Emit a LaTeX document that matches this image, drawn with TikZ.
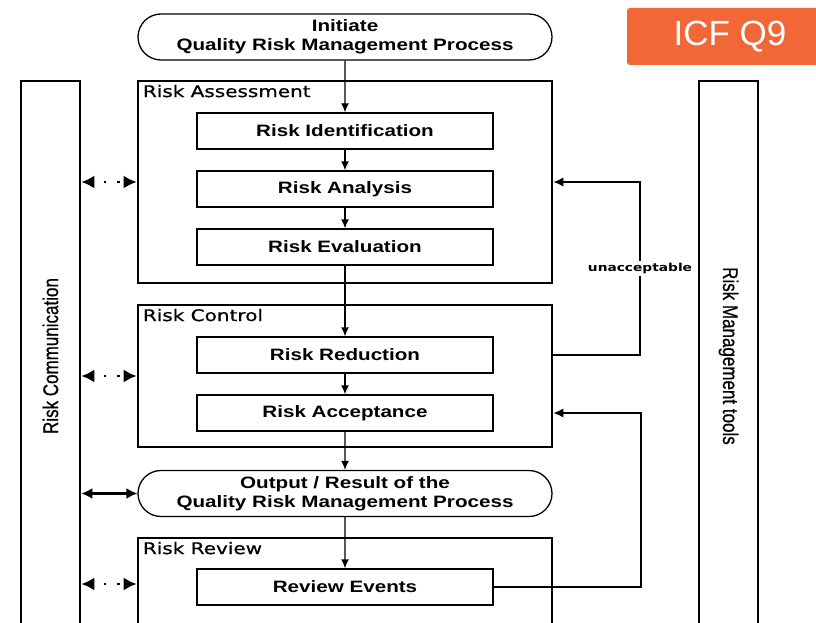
\documentclass[tikz,border=0pt]{standalone}
\usepackage{fontspec}
\newfontfamily\boxfont[FakeStretch=1.25]{Liberation Sans}
\newfontfamily\stagefont[FakeStretch=1.25, FakeBold=0.7]{DejaVu Sans}
\newfontfamily\loopfont[FakeStretch=1.25]{DejaVu Sans}
\newfontfamily\sidefont[FakeBold=0.8]{Liberation Sans}
\newfontfamily\tagfont{Liberation Sans}
\usetikzlibrary{arrows.meta, shapes.misc}
\definecolor{icforange}{RGB}{242,103,56}

\tikzset{
  riskbox/.style = {draw, line width=1.3pt, minimum width=296pt, minimum height=36pt, inner sep=0pt,
    font=\boxfont\bfseries\fontsize{16.5}{19}\selectfont},
  terminal/.style = {draw, rounded rectangle, line width=1.3pt, minimum width=414pt, minimum height=46pt,
    inner sep=0pt, align=center, font=\boxfont\bfseries\fontsize{16.5}{19}\selectfont},
  stage/.style = {draw, line width=2.6pt, minimum width=414pt, inner sep=0pt},
  stagelabel/.style = {anchor=north west, inner sep=0pt, font=\stagefont\fontsize{16}{19}\selectfont},
  sidebar/.style = {draw, line width=2.6pt, minimum width=59pt, minimum height=550pt, inner sep=0pt},
  sidetext/.style = {inner sep=0pt, font=\sidefont\fontsize{17}{19}\selectfont},
  tag/.style = {fill=icforange, rounded corners=3pt, minimum width=206pt, minimum height=57pt,
    text=white, font=\tagfont\fontsize{35}{40}\selectfont},
  flow/.style = {line width=1.3pt, -{Latex[length=9pt,width=8pt]}},
  feedback/.style = {line width=1.3pt, -{Latex[length=10pt,width=9pt]}},
  commlink/.style = {line width=2.8pt, dash pattern=on 2.8pt off 10.5pt, dash phase=2.8pt,
    {Latex[length=13pt,width=13pt]}-{Latex[length=13pt,width=13pt]}},
  solidlink/.style = {line width=2.2pt, {Latex[length=11pt,width=11pt]}-{Latex[length=11pt,width=11pt]}},
  looplabel/.style = {fill=white, inner sep=2pt, font=\loopfont\bfseries\fontsize{11}{13}\selectfont}
}

\begin{document}
\begin{tikzpicture}[x=1pt, y=-1pt]
\useasboundingbox (0,0) rectangle (816,623);
\clip (0,0) rectangle (816,623);
\fill[white] (0,0) rectangle (816,623);

% side bars
\node[sidebar] (comm) at (50.5,356) {};
\node[sidetext, rotate=90, yscale=1.25] (commtext) at (comm.center) {Risk Communication};
\node[sidebar] (tools) at (728.5,356) {};
\node[sidetext, rotate=-90, yscale=1.25] (toolstext) at (tools.center) {Risk Management tools};

\node[tag] (icf) at (730,36.5) {ICF Q9};

% process
\node[terminal] (init) at (345,37) {Initiate\\Quality Risk Management Process};

\node[stage, minimum height=202pt] (ra) at (345,182) {};
\node[stagelabel] (ralabel) at ([shift={(6,5)}]ra.north west) {Risk Assessment};
\node[riskbox] (rid) at (345,131) {Risk Identification};
\node[riskbox] (ran) at (345,189) {Risk Analysis};
\node[riskbox] (reval) at (345,247) {Risk Evaluation};

\node[stage, minimum height=142pt] (rc) at (345,376) {};
\node[stagelabel] (rclabel) at ([shift={(6,5)}]rc.north west) {Risk Control};
\node[riskbox] (red) at (345,355) {Risk Reduction};
\node[riskbox] (acc) at (345,413) {Risk Acceptance};

\node[terminal] (out) at (345,493.5) {Output / Result of the\\Quality Risk Management Process};

\node[stage, minimum height=92pt] (rr) at (345,584) {};
\node[stagelabel] (rrlabel) at ([shift={(6,5)}]rr.north west) {Risk Review};
\node[riskbox] (evt) at (345,587) {Review Events};

% main flow
\draw[flow] (init) -- (rid);
\draw[flow] (rid) -- (ran);
\draw[flow] (ran) -- (reval);
\draw[flow] (reval) -- (red);
\draw[flow] (red) -- (acc);
\draw[flow] (acc) -- (out);
\draw[flow] (out) -- (evt);

% loops back
\coordinate (loopa) at (640,0);
\coordinate (loopb) at (641,0);
\draw[feedback] (rc.east |- red) -- (loopa |- red)
  -- node[looplabel] {unacceptable} (loopa |- ra) -- (ra.east);
\draw[feedback] (evt.east) -- (loopb |- evt) -- (loopb |- acc) -- (rc.east |- acc);

% communication
\draw[commlink] (comm.east |- ra) -- (ra.west);
\draw[commlink] (comm.east |- rc) -- (rc.west);
\draw[solidlink] (comm.east |- out) -- (out.west);
\draw[commlink] (comm.east |- rr) -- (rr.west);
\end{tikzpicture}
\end{document}
